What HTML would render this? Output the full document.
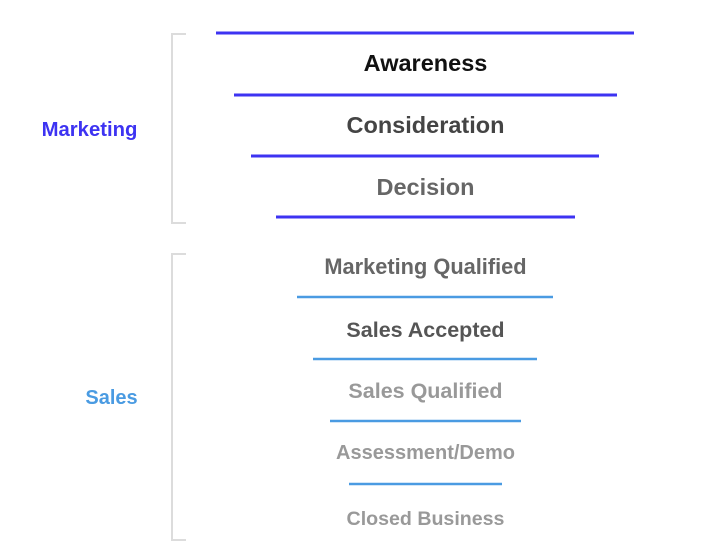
<!DOCTYPE html>
<html><head><meta charset="utf-8"><style>html,body{margin:0;padding:0;background:#fff}</style></head>
<body>
<svg width="722" height="552" xmlns="http://www.w3.org/2000/svg" font-family="Liberation Sans, Arial, sans-serif" font-weight="bold" text-anchor="middle">
<g fill="none" stroke="#dcdcdc" stroke-width="2">
<polyline points="186,34 172,34 172,223 186,223"/>
<polyline points="186,254 172,254 172,540 186,540"/>
</g>
<g stroke="#3d33f2" stroke-width="3">
<line x1="216" y1="33" x2="634" y2="33"/>
<line x1="234" y1="95" x2="617" y2="95"/>
<line x1="251" y1="156" x2="599" y2="156"/>
<line x1="276" y1="217" x2="575" y2="217"/>
</g>
<g stroke="#4a9be2" stroke-width="2.5">
<line x1="297" y1="297" x2="553" y2="297"/>
<line x1="313" y1="359" x2="537" y2="359"/>
<line x1="330" y1="421" x2="521" y2="421"/>
<line x1="349" y1="484" x2="502" y2="484"/>
</g>
<text x="425.5" y="71" font-size="23.5" fill="#111">Awareness</text>
<text x="425.5" y="133" font-size="23.5" fill="#444">Consideration</text>
<text x="425.5" y="195" font-size="23.5" fill="#666">Decision</text>
<text x="425.5" y="274" font-size="21.8" fill="#666">Marketing Qualified</text>
<text x="425.5" y="337" font-size="21.5" fill="#555">Sales Accepted</text>
<text x="425.5" y="398" font-size="21.5" fill="#999">Sales Qualified</text>
<text x="425.5" y="459" font-size="20" fill="#999">Assessment/Demo</text>
<text x="425.5" y="525" font-size="19.6" fill="#999">Closed Business</text>
<text x="89.5" y="136" font-size="20.3" fill="#3d33f2">Marketing</text>
<text x="111.5" y="404" font-size="20" fill="#4a9be2">Sales</text>
</svg>
</body></html>
